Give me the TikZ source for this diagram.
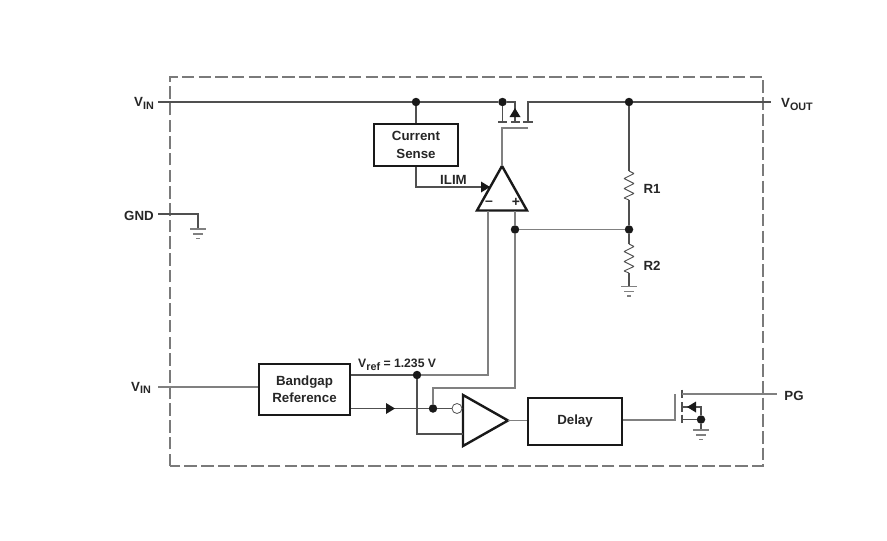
\documentclass[tikz,border=0pt]{standalone}
\usepackage{fontspec}
\setmainfont{Liberation Sans}
\usetikzlibrary{calc}
\definecolor{wire}{HTML}{505050}
\definecolor{wirelight}{HTML}{808080}
\definecolor{frame}{HTML}{7A7A7A}
\newcommand{\lowtext}[1]{\raisebox{-2.6pt}{\fontsize{10.8}{12}\selectfont #1}}
\tikzset{
  x=1pt,y=-1pt,
  every node/.style={font=\bfseries\fontsize{13.3}{15}\selectfont,text=black!85},
  wireline/.style={draw=wire,line width=1.1pt},
  greyline/.style={draw=wirelight,line width=1.4pt},
  block/.style={draw=black!90,line width=2.4pt,inner sep=0pt,align=center},
  junction/.style={circle,fill=black!90,draw=none,minimum size=8.5pt,inner sep=0pt},
  gatebar/.style={draw=wire,line width=1.1pt},
  solidtip/.style={fill=black!90,draw=none},
  amp/.style={draw=black!90,line width=2.4pt,line join=miter},
  pics/earth/.style={code={
    \draw[wirelight,line width=1.2pt] (-8,0) -- (8,0);
    \draw[wirelight,line width=1.2pt] (-5,5) -- (5,5);
    \draw[wirelight,line width=1.2pt] (-2,9.5) -- (2,9.5);
  }},
  pics/zigzag/.style={code={
    \draw[wire,line width=.9pt,line join=bevel] (0,0) -- (5,2.5) -- (-5,7.5) -- (5,12.5) -- (-5,17.5) -- (5,22.5) -- (-5,27) -- (0,29);
  }}
}
\begin{document}
\begin{tikzpicture}
\useasboundingbox (0,0) rectangle (887,541);

% device outline
\draw[frame,line width=1.3pt,dash pattern=on 12.5pt off 4.2pt] (170,466) -- (170,77) -- (763,77) -- (763,466) -- cycle;

% function blocks
\node[block,minimum width=84pt,minimum height=42pt] (sense) at (416,145) {Current\\[3pt]Sense};
\node[block,minimum width=91pt,minimum height=51pt] (bandgap) at (304.5,389.5) {Bandgap\\[2pt]Reference};
\node[block,minimum width=94pt,minimum height=47pt] (delay) at (575,421.5) {\raisebox{-1.5pt}{Delay}};

% amplifiers
\coordinate (eaTop) at (502,166);
\coordinate (eaMinus) at (488,210.5);
\coordinate (eaPlus) at (515,210.5);
\coordinate (eaIlim) at (489,187);
\draw[amp] (eaTop) -- (527,210.5) -- (477,210.5) -- cycle;
\coordinate (cmpPos) at (463,434);
\coordinate (cmpNeg) at (463,408);
\coordinate (cmpOut) at (508,420.5);
\draw[amp] (463,395) -- (cmpOut) -- (463,446) -- cycle;
\node[font=\bfseries\fontsize{14}{14}\selectfont,inner sep=0pt] (eaMinusSign) at (489,203) {–};
\node[font=\bfseries\fontsize{14}{14}\selectfont,inner sep=0pt] (eaPlusSign) at (516,202) {+};

% junction dots
\node[junction] (j1) at (416,102) {};
\node[junction] (j2) at (502.5,102) {};
\node[junction] (j3) at (629,102) {};
\node[junction] (j4) at (629,229.5) {};
\node[junction] (j5) at (515,229.5) {};
\node[junction] (j6) at (417,375) {};
\node[junction] (j7) at (433,408.5) {};
\node[junction] (j8) at (701,419.5) {};
\node[circle,draw=wire,fill=white,line width=.8pt,minimum size=10pt,inner sep=0pt] (inv) at (457,408.5) {};

% terminals
\coordinate (vinA) at (158,102);
\coordinate (gndA) at (158,214);
\coordinate (vinB) at (158,387);
\coordinate (voutA) at (771,102);
\coordinate (pgA) at (777,394);

% pass transistor
\coordinate (passS) at (502.5,122);
\coordinate (passB) at (515,122);
\coordinate (passD) at (528,122);
\coordinate (passG) at (502,128);
\coordinate (passGe) at (528,128);
\draw[wireline] (vinA) -- (j1) -- (j2) -- (515,102) -- (passB);
\draw[wireline] (j2) -- (passS);
\draw[wireline] (passD) |- (j3);
\draw[wireline] (j3) -- (voutA);
\draw[gatebar] (498,122) -- (507,122) (511,122) -- (520,122) (523,122) -- (533,122);
\fill[solidtip] (515,108) -- (520.5,117) -- (509.5,117) -- cycle;
\draw[greyline] (eaTop) -- (passG) -- (passGe);

% current sense connections
\draw[wireline] (j1) -- (sense.north);
\draw[wireline] (sense.south) |- (eaIlim);
\fill[solidtip] (490,187) -- (481,181.5) -- (481,192.5) -- cycle;
\node (ilim) at (453.5,180) {ILIM};

% ground pin
\coordinate (gndDrop) at (198,229);
\draw[wireline] (gndA) -| (gndDrop);
\pic at (gndDrop) {earth};

% feedback divider
\coordinate (r1top) at (629,171);
\coordinate (r1bot) at (629,200);
\coordinate (r2top) at (629,244);
\coordinate (r2bot) at (629,273);
\coordinate (r2gnd) at (629,286.5);
\draw[wireline] (j3) -- (r1top) (r1bot) -- (j4) -- (r2top) (r2bot) -- (r2gnd);
\pic at (r1top) {zigzag};
\pic at (r2top) {zigzag};
\pic at (r2gnd) {earth};
\node (r1) at (652,189) {R1};
\node (r2) at (652,266) {R2};
\draw[greyline] (j4) -- (j5);
\draw[greyline] (j5) -- (eaPlus);

% reference and comparator wiring
\draw[greyline] (vinB) -- (bandgap.west |- vinB);
\draw[greyline] (eaMinus) |- (j6);
\draw[wireline] (j6) -- (bandgap.east |- j6);
\draw[greyline] (j5) |- (433,388) -- (j7);
\draw[wireline] (bandgap.east |- j7) -- (j7) -- (inv);
\fill[solidtip] (395,408.5) -- (386,403) -- (386,414) -- cycle;
\draw[wireline] (j6) |- (cmpPos);
\draw[greyline] (cmpOut) -- (delay.west |- cmpOut);

% power good transistor
\coordinate (pgG) at (675,420);
\coordinate (pgGt) at (675,394);
\draw[greyline] (delay.east |- pgG) -- (pgG) -- (pgGt);
\draw[gatebar] (682,389.5) -- (682,398) (682,402) -- (682,412) (682,414.5) -- (682,423);
\draw[greyline] (682,394) -- (pgA);
\draw[wireline] (682,407) -- (701,407) -- (j8);
\draw[wireline] (682,419.5) -- (j8);
\fill[solidtip] (687,407) -- (696,401.5) -- (696,412.5) -- cycle;
\coordinate (pgGnd) at (701,430);
\draw[wireline] (j8) -- (pgGnd);
\pic at (pgGnd) {earth};

% pin and signal labels
\node (tVinA) at (144,103.5) {V\lowtext{IN}};
\node (tGnd) at (139,216) {GND};
\node (tVinB) at (141,388) {V\lowtext{IN}};
\node (tVout) at (797,104.5) {V\lowtext{OUT}};
\node (tPg) at (794,396) {PG};
\node[anchor=west,inner sep=0pt,font=\bfseries\fontsize{12.2}{14}\selectfont] (tVref) at (358,364.5) {V\lowtext{ref} = 1.235 V};
\end{tikzpicture}
\end{document}
